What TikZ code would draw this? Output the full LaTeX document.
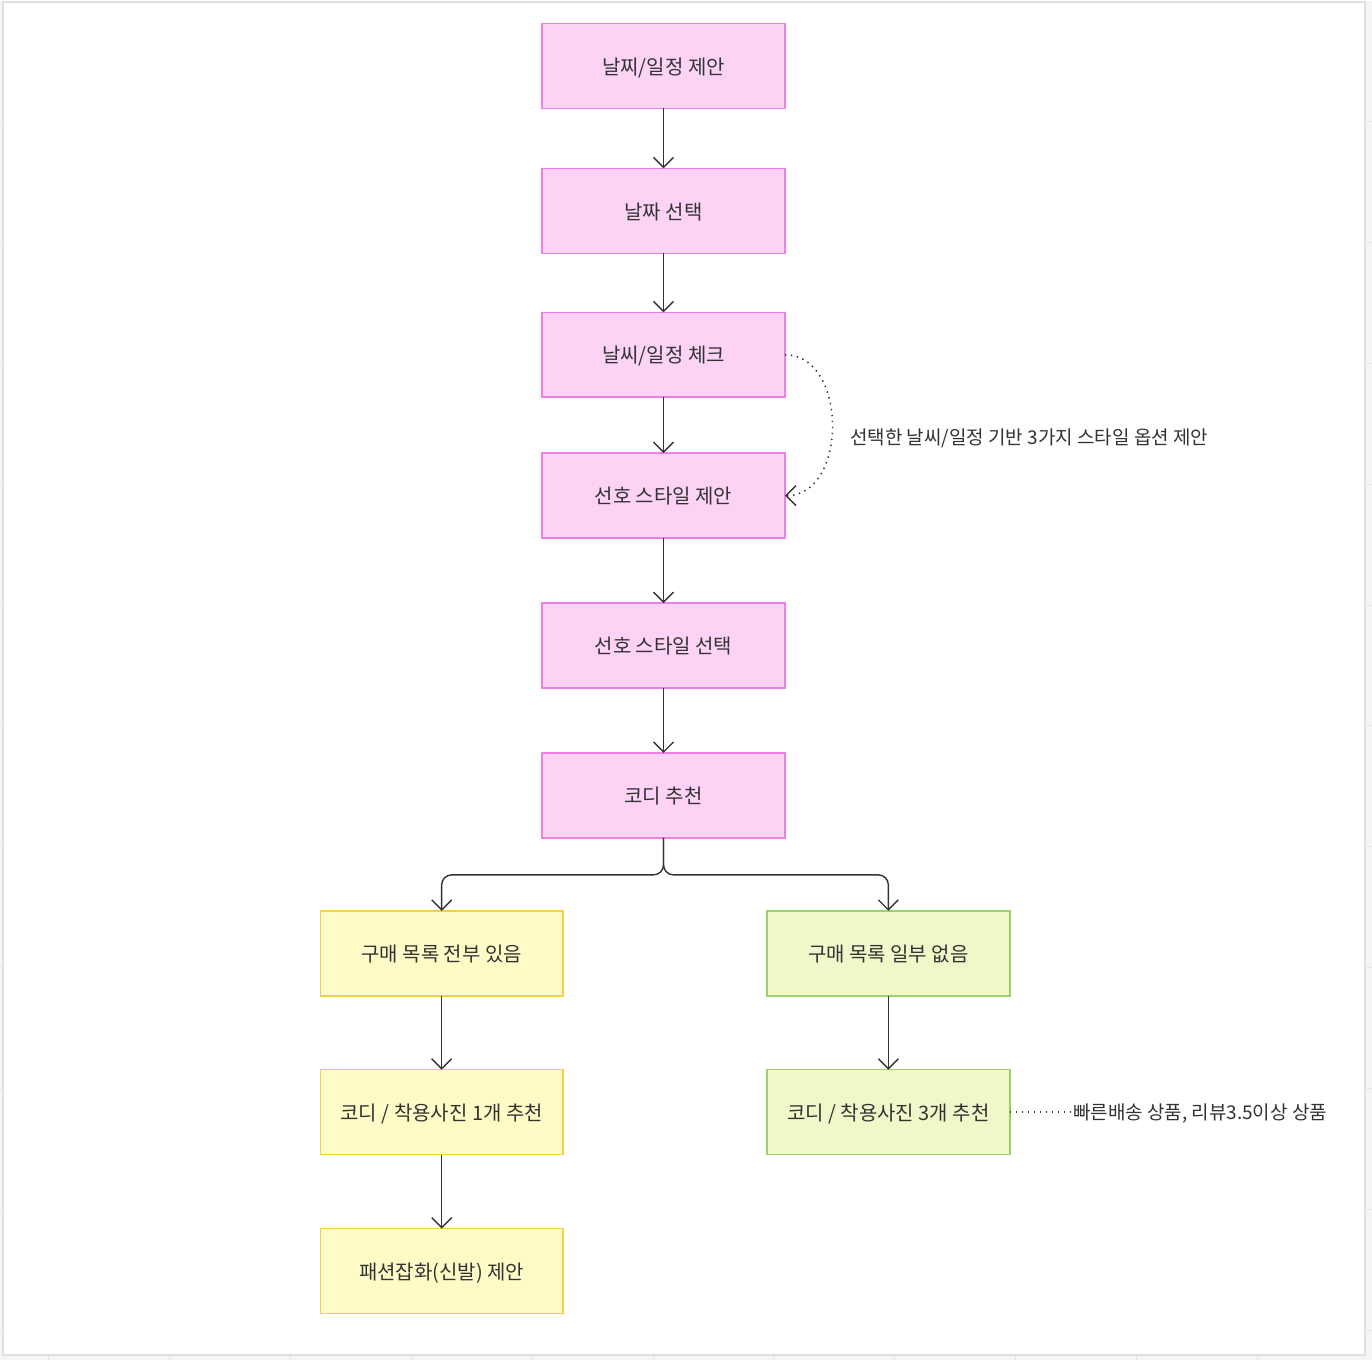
\documentclass[tikz,border=0pt]{standalone}
\usepackage{fontspec}
\setmainfont{Noto Sans CJK KR}
\usetikzlibrary{positioning,arrows.meta}
\definecolor{flowPink}      {HTML}{FCD3F5}
\definecolor{flowPinkLine}  {HTML}{EE7FE4}
\definecolor{flowYellow}    {HTML}{FFFBC7}
\definecolor{flowYellowLine}{HTML}{F3D04A}
\definecolor{flowGreen}     {HTML}{EEF8C8}
\definecolor{flowGreenLine} {HTML}{9CD26A}
\definecolor{ink}           {HTML}{333333}

\begin{document}
\begin{tikzpicture}[
  x=0.5pt, y=-0.5pt,
  font=\fontsize{10}{12}\selectfont,
  stepbox/.style ={draw, line width=0.75pt, minimum width=121.5pt,
                   minimum height=42.5pt, inner sep=0pt, outer sep=0pt,
                   text=ink, text height=9pt, text depth=0.8pt},
  pinkbox/.style ={stepbox, draw=flowPinkLine,   fill=flowPink},
  yelbox/.style  ={stepbox, draw=flowYellowLine, fill=flowYellow},
  grnbox/.style  ={stepbox, draw=flowGreenLine,  fill=flowGreen},
  ar/.style      ={-{Straight Barb[length=5pt,width=10pt]}, line width=0.7pt,
                   draw=ink},
  dots/.style    ={draw=ink, line width=0.75pt, dash pattern=on 0.7pt off 2.3pt},
  note/.style    ={font=\fontsize{9.5}{11}\selectfont, text=ink, inner sep=0pt},
]

% canvas
\fill[gray!8] (0,0) rectangle (1372,1360);
\foreach \gx in {48,169,...,1372}
  \draw[gray!20, line width=0.5pt] (\gx,0) -- (\gx,1360);
\foreach \gy in {121,242,...,1360}
  \draw[gray!20, line width=0.5pt] (0,\gy) -- (1372,\gy);
\draw[fill=white, draw=gray!25, line width=1pt] (3,1) rectangle (1365,1355);
\useasboundingbox (0,0) rectangle (1372,1360);

% main column
\node[pinkbox] (propose) at (663.5,65.5) {날찌/일정 제안};
\node[pinkbox, below=30pt of propose]     (pickdate)  {날짜 선택};
\node[pinkbox, below=29.5pt of pickdate]  (check)     {날씨/일정 체크};
\node[pinkbox, below=28pt of check]       (suggest)   {선호 스타일 제안};
\node[pinkbox, below=32.5pt of suggest]   (pickstyle) {선호 스타일 선택};
\node[pinkbox, below=32.5pt of pickstyle] (codi)      {코디 추천};

% branches
\node[yelbox, below=36.5pt of codi, xshift=-111pt] (haveall) {구매 목록 전부 있음};
\node[grnbox, right=102pt of haveall]  (misssome) {구매 목록 일부 없음};
\node[yelbox, below=37pt of haveall]   (onepic)   {코디 / 착용사진 1개 추천};
\node[yelbox, below=37pt of onepic]    (shoes)    {패션잡화(신발) 제안};
\node[grnbox, below=37pt of misssome]  (threepic) {코디 / 착용사진 3개 추천};

% notes
\node[note, anchor=west] (stylenote) at (850,438)
  {선택한 날씨/일정 기반 3가지 스타일 옵션 제안};
\node[note, right=31.5pt of threepic, yshift=-0.5pt] (shipnote) {빠른배송 상품, 리뷰3.5이상 상품};

\foreach \a/\b in {propose/pickdate, pickdate/check, check/suggest,
                   suggest/pickstyle, pickstyle/codi, haveall/onepic,
                   onepic/shoes, misssome/threepic}
  \draw[ar] (\a) -- (\b);

\draw[ar, rounded corners=5pt] (codi.south) -- ++(0,37) -| (haveall.north);
\draw[ar, rounded corners=5pt] (codi.south) -- ++(0,37) -| (misssome.north);

\draw[ar, dots] (check.east) to[out=0, in=0, looseness=1.15] (suggest.east);
\draw[dots] (threepic.east) -- (threepic.east -| shipnote.west);

\end{tikzpicture}
\end{document}
